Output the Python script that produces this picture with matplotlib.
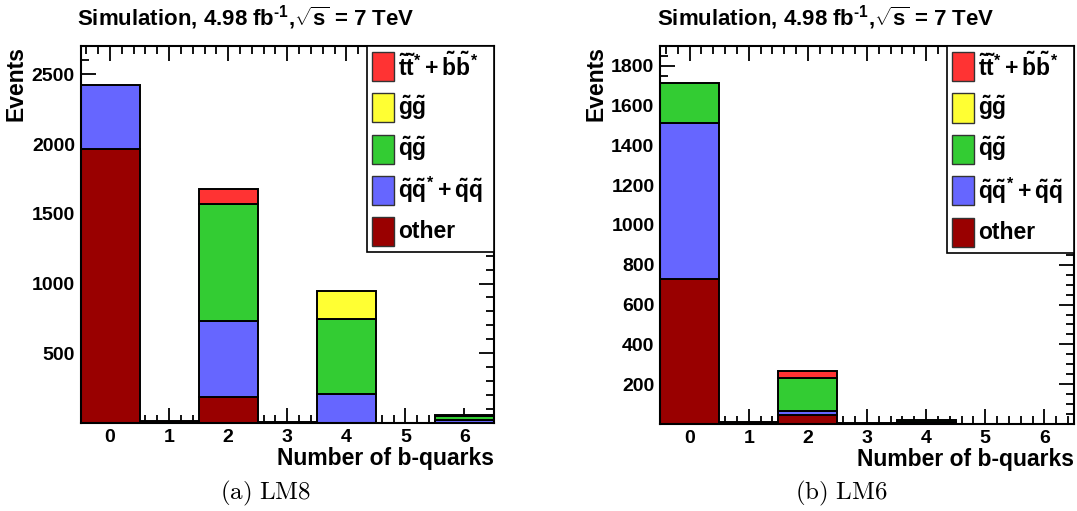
import matplotlib
matplotlib.use("Agg")
import matplotlib.pyplot as plt
from matplotlib.ticker import MultipleLocator, FixedLocator
from matplotlib.patches import Rectangle

plt.rcParams['font.family'] = ['Liberation Sans', 'DejaVu Sans']
plt.rcParams['font.weight'] = 'bold'
plt.rcParams['mathtext.fontset'] = 'custom'
plt.rcParams['mathtext.rm'] = 'Liberation Sans:bold'
plt.rcParams['mathtext.it'] = 'Liberation Sans:bold'
plt.rcParams['mathtext.bf'] = 'Liberation Sans:bold'
plt.rcParams['mathtext.sf'] = 'Liberation Sans:bold'

# ---- data ----
n_bquarks = [0, 1, 2, 3, 4, 5, 6]
series_labels = [r'$\tilde{t}\tilde{t}^{*}+\tilde{b}\tilde{b}^{*}$',
                 r'$\tilde{g}\tilde{g}$',
                 r'$\tilde{q}\tilde{g}$',
                 r'$\tilde{q}\tilde{q}^{*}+\tilde{q}\tilde{q}$',
                 'other']
series_colors = ['#ff3333', '#ffff33', '#33cc33', '#6666ff', '#990000']

# LM8 (stack order bottom -> top: other, qq, qg, gg, tt)
lm8_other = [1962, 12, 188, 10, 0, 0, 0]
lm8_qq    = [458, 0, 545, 0, 211, 0, 22]
lm8_qg    = [0, 0, 840, 0, 533, 0, 30]
lm8_gg    = [0, 0, 0, 0, 200, 0, 8]
lm8_tt    = [0, 0, 105, 0, 0, 0, 0]

# LM6
lm6_other = [730, 8, 45, 3, 3, 0, 0]
lm6_qq    = [780, 0, 20, 0, 5, 0, 0]
lm6_qg    = [205, 0, 165, 0, 12, 0, 0]
lm6_gg    = [0, 0, 0, 0, 0, 0, 0]
lm6_tt    = [0, 0, 35, 0, 0, 0, 0]

title_text = r'Simulation, 4.98 fb$^{\text{-}1}$,$\sqrt{s}$ = 7 TeV'
xlabel_text = 'Number of b-quarks'
ylabel_text = 'Events'
captions = [r'$\mathrm{(a)\ LM8}$', r'$\mathrm{(b)\ LM6}$']

W, H = 1077, 511
fig = plt.figure(figsize=(W / 100, H / 100), dpi=100)


def px_axes(x0, x1, ytop, ybot):
    return fig.add_axes([x0 / W, 1 - ybot / H, (x1 - x0) / W, (ybot - ytop) / H])


def draw_panel(ax, stacks, ymax, major, minor, caption, cap_x):
    order_colors = ['#990000', '#6666ff', '#33cc33', '#ffff33', '#ff3333']
    bottom = [0] * len(n_bquarks)
    for vals, col in zip(stacks, order_colors):
        for i, v in enumerate(vals):
            if v > 0:
                ax.bar(n_bquarks[i], v, bottom=bottom[i], width=1.0, color=col,
                       edgecolor='black', linewidth=1.4, zorder=2)
        bottom = [b + v for b, v in zip(bottom, vals)]
    ax.set_xlim(-0.5, 6.5)
    ax.set_ylim(0, ymax)
    ax.xaxis.set_major_locator(FixedLocator(n_bquarks))
    ax.xaxis.set_minor_locator(MultipleLocator(0.2))
    ticks = list(range(0, int(ymax) + 1, major))
    ax.yaxis.set_major_locator(FixedLocator(ticks))
    ax.set_yticklabels(['' if t == 0 else str(t) for t in ticks])
    ax.yaxis.set_minor_locator(MultipleLocator(minor))
    ax.tick_params(which='both', direction='in', top=True, right=True,
                   width=1.3, labelsize=14, pad=4)
    ax.tick_params(which='major', length=11)
    ax.tick_params(which='minor', length=6)
    for s in ax.spines.values():
        s.set_linewidth(1.5)
        s.set_zorder(5)
    for lab in ax.get_xticklabels() + ax.get_yticklabels():
        lab.set_fontweight('bold')
    ax.set_xlabel(xlabel_text, fontsize=16.5, fontweight='bold', loc='right', labelpad=1)
    ax.set_ylabel(ylabel_text, fontsize=16.5, fontweight='bold', loc='top', labelpad=3)

    # legend box
    lx0, ly0 = 0.693, 0.453
    ax.add_patch(Rectangle((lx0, ly0), 1 - lx0, 1 - ly0, transform=ax.transAxes,
                           facecolor='white', edgecolor='black', linewidth=1.2,
                           zorder=6, clip_on=False))
    n = len(series_labels)
    row = (1 - ly0) / n
    sw_w, sw_h = 22 / 413.5, 29 / 377
    for k, (lab, col) in enumerate(zip(series_labels, series_colors)):
        yc = 1 - row * (k + 0.5)
        ax.add_patch(Rectangle((lx0 + 5 / 413.5, yc - sw_h / 2), sw_w, sw_h,
                               transform=ax.transAxes, facecolor=col,
                               edgecolor='#333333', linewidth=1.0, zorder=7,
                               clip_on=False))
        ax.text(lx0 + 31 / 413.5, yc, lab, transform=ax.transAxes, fontsize=16.5,
                fontweight='bold', va='center', ha='left', zorder=8)

    fig.text(cap_x / W, 1 - 493 / H, caption, fontsize=18, ha='center', va='center',
             math_fontfamily='cm')


ax1 = px_axes(80.5, 494, 46, 423)
draw_panel(ax1, [lm8_other, lm8_qq, lm8_qg, lm8_gg, lm8_tt], 2703, 500, 100,
           captions[0], 266)
fig.text(77 / W, 1 - 18 / H, title_text, fontsize=16, fontweight='bold',
         ha='left', va='center')

ax2 = px_axes(660, 1074, 46, 424)
draw_panel(ax2, [lm6_other, lm6_qq, lm6_qg, lm6_gg, lm6_tt], 1899, 200, 50,
           captions[1], 841)
fig.text(657 / W, 1 - 18 / H, title_text, fontsize=16, fontweight='bold',
         ha='left', va='center')

fig.savefig('out.png', dpi=100)
